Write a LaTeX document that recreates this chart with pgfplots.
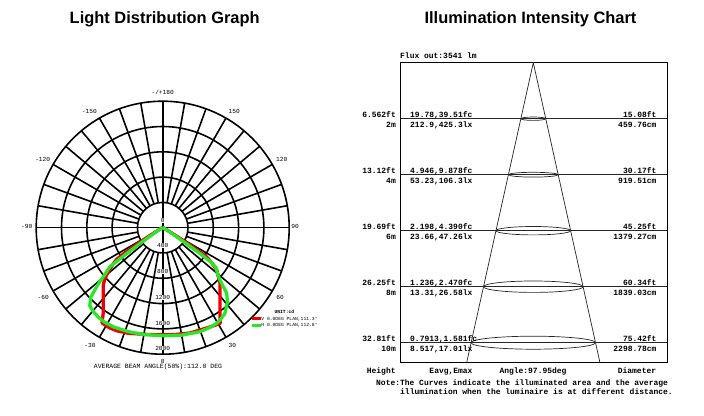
\documentclass[border=0pt]{standalone}
\usepackage{pgfplots}
\pgfplotsset{compat=1.18}
\usepgfplotslibrary{polar}
\usepackage{fontspec}
\setmainfont{Liberation Sans}
\newfontfamily\mono{Liberation Mono}
\definecolor{curveV}{RGB}{240,0,0}
\definecolor{curveH}{RGB}{40,230,40}
\newcommand\pfont{\mono\fontsize{6.2}{7}\selectfont}
\newcommand\rfont{\mono\bfseries\fontsize{8}{9}\selectfont}

\begin{document}
\begin{tikzpicture}
\path[use as bounding box] (0,0) rectangle (704bp,416bp);

\begin{scope}[x=1bp,y=1bp]
% titles
\node[anchor=base, font=\fontsize{16.5}{18}\selectfont\bfseries] at (164.7,392) {Light Distribution Graph};
\node[anchor=base, font=\fontsize{16.5}{18}\selectfont\bfseries] at (530.5,392) {Illumination Intensity Chart};

% ---------- polar grid (rings every 400 cd, spokes every 10 deg)
\begin{scope}[shift={(162.7,188.3)}, line width=1.6bp]
  \foreach \k in {1,...,5} \draw (0,0) circle[radius=25.3*\k];
  \foreach \a in {0,10,...,350} \draw (\a:25.3) -- (\a:126.5);
  \draw (-126.5,0) -- (126.5,0);
  \draw (0,-126.5) -- (0,126.5);
\end{scope}

% angle labels
\begin{scope}[font=\pfont]
  \node at (162.7,323.3) {-/+180};
  \node at (89.3,305) {-150};   \node at (234.3,305) {150};
  \node at (42.7,256.3) {-120}; \node at (281.7,256.3) {120};
  \node at (26.7,189.3) {-90};  \node at (295,189.3) {90};
  \node at (43.3,118.5) {-60};  \node at (280,118.5) {60};
  \node at (90,71) {-30};       \node at (232.3,71) {30};
  \node at (162.7,55) {0};
\end{scope}
% radial labels
\begin{scope}[font=\pfont, inner sep=0.4bp]
  \node[fill=white] at (162.7,195.3) {0};
  \node[fill=white] at (162.7,170.3) {400};
  \node[fill=white] at (162.7,144.3) {800};
  \node[fill=white] at (162.7,118.5) {1200};
  \node[fill=white] at (162.7,93) {1600};
  \node[fill=white] at (162.7,68) {2000};
\end{scope}
\node[font=\mono\fontsize{6.5}{7}\selectfont] at (158,49) {AVERAGE BEAM ANGLE(50\%):112.0 DEG};
\end{scope}

% ---------- intensity curves (angle = gamma - 90, so gamma 0 points down; cd)
\begin{axis}[at={(162.7bp,188.3bp)}, anchor=center,
    width=253bp, height=253bp, scale only axis, hide axis,
    xmin=-2000, xmax=2000, ymin=-2000, ymax=2000, clip=false]
  \addplot[data cs=polar, curveV, line width=3.3bp, line join=round] coordinates {
    (-180,0) (-165,10) (-155,40) (-150,120) (-148.5,250) (-147.5,450)
    (-146.5,700) (-145.5,880) (-144,960) (-142,1060) (-140,1156) (-138,1240)
    (-136,1306) (-132,1404) (-128,1525) (-125,1638) (-122.5,1785) (-118,1792)
    (-114,1784) (-108,1755) (-102,1719) (-96,1700) (-90,1692) (-84,1700)
    (-75.5,1720) (-66.3,1731) (-62,1750) (-59,1763) (-56,1620) (-52,1472)
    (-48,1354) (-44,1260) (-41.4,1172) (-38,1085) (-35,920) (-33.5,820)
    (-32.5,550) (-31.5,300) (-30,130) (-25,40) (-15,10) (0,0)};
  \addplot[data cs=polar, curveH, line width=3.3bp, line join=round] coordinates {
    (-180,0) (-160,15) (-150,80) (-146,250) (-145,450) (-144.2,750)
    (-143.5,1040) (-141,1180) (-138.5,1380) (-136,1580) (-133,1690) (-130,1720)
    (-126,1740) (-122,1755) (-116,1750) (-108,1730) (-100,1715) (-90,1708)
    (-80,1725) (-70.3,1747) (-64,1745) (-60.5,1736) (-58,1718) (-54,1674)
    (-49,1560) (-45.7,1449) (-42.4,1227) (-40,1130) (-37,1060) (-35.5,950)
    (-34.7,700) (-34,450) (-33,250) (-30,90) (-20,15) (0,0)};
\end{axis}

% ---------- illumination chart (x in px from the apex, y in metres below it)
\begin{axis}[at={(400bp,353.3bp)}, anchor=north west,
    width=267.3bp, height=299.3bp, scale only axis,
    xmin=-133.3, xmax=134, ymin=-10.69, ymax=0,
    xtick=\empty, ytick={-10,-8,-6,-4,-2}, yticklabels={},
    major tick length=0, ymajorgrids,
    grid style={black!85, line width=0.8bp},
    axis line style={black, line width=0.9bp}]
  \addplot[black!85, line width=0.7bp] coordinates {(-66.5,-10.69) (0,0) (66.5,-10.69)};
\end{axis}

\begin{scope}[x=1bp,y=1bp]
% legend
\node[anchor=west, font=\mono\bfseries\fontsize{4.7}{5}\selectfont] at (271,104.5) {UNIT:cd};
\draw[curveV, line width=3bp] (251.7,97) -- (260.7,97);
\node[anchor=west, inner sep=0.5bp, font=\mono\fontsize{4.7}{5}\selectfont] at (260.7,97) {V 0.0DEG PLAN,111.3°};
\draw[curveH, line width=3bp] (251.7,90.5) -- (260.7,90.5);
\node[anchor=west, inner sep=0.5bp, font=\mono\fontsize{4.7}{5}\selectfont] at (260.7,90.5) {H 0.0DEG PLAN,112.8°};

\foreach \h/\ry in {2/1.7,4/2.4,6/4.2,8/5.7,10/6.5}
  \draw[black!85, line width=0.7bp] (533.3,{353.3-28*\h}) ellipse [x radius={6.22*\h}, y radius=\ry];

\node[anchor=base west, inner sep=0, font=\rfont] at (400,357.5) {Flux out:3541 lm};

\foreach \h/\ft/\m/\fc/\lx/\dft/\dcm in {
    2/6.562ft/2m/{19.78,39.51fc}/{212.9,425.3lx}/15.08ft/459.76cm,
    4/13.12ft/4m/{4.946,9.878fc}/{53.23,106.3lx}/30.17ft/919.51cm,
    6/19.69ft/6m/{2.198,4.390fc}/{23.66,47.26lx}/45.25ft/1379.27cm,
    8/26.25ft/8m/{1.236,2.470fc}/{13.31,26.58lx}/60.34ft/1839.03cm,
    10/32.81ft/10m/{0.7913,1.581fc}/{8.517,17.01lx}/75.42ft/2298.78cm}
{
  \pgfmathsetmacro\yl{353.3-28*\h}
  \node[anchor=base east, inner sep=0, font=\rfont] at (396,\yl+1.5) {\ft};
  \node[anchor=base east, inner sep=0, font=\rfont] at (396,\yl-8.5) {\m};
  \node[anchor=base west, inner sep=0, font=\rfont] at (410,\yl+1.5) {\fc};
  \node[anchor=base west, inner sep=0, font=\rfont] at (410,\yl-8.5) {\lx};
  \node[anchor=base east, inner sep=0, font=\rfont] at (656.7,\yl+1.5) {\dft};
  \node[anchor=base east, inner sep=0, font=\rfont] at (656.7,\yl-8.5) {\dcm};
}

\node[anchor=base west, inner sep=0, font=\rfont] at (366.7,43) {Height};
\node[anchor=base, inner sep=0, font=\rfont] at (451,43) {Eavg,Emax};
\node[anchor=base, inner sep=0, font=\rfont] at (533,43) {Angle:97.95deg};
\node[anchor=base, inner sep=0, font=\rfont] at (637,43) {Diameter};
\node[anchor=base west, inner sep=0, font=\rfont] at (376,30.2) {Note:The Curves indicate the illuminated area and the average};
\node[anchor=base west, inner sep=0, font=\rfont] at (400,21.2) {illumination when the luminaire is at different distance.};
\end{scope}
\end{tikzpicture}
\end{document}
